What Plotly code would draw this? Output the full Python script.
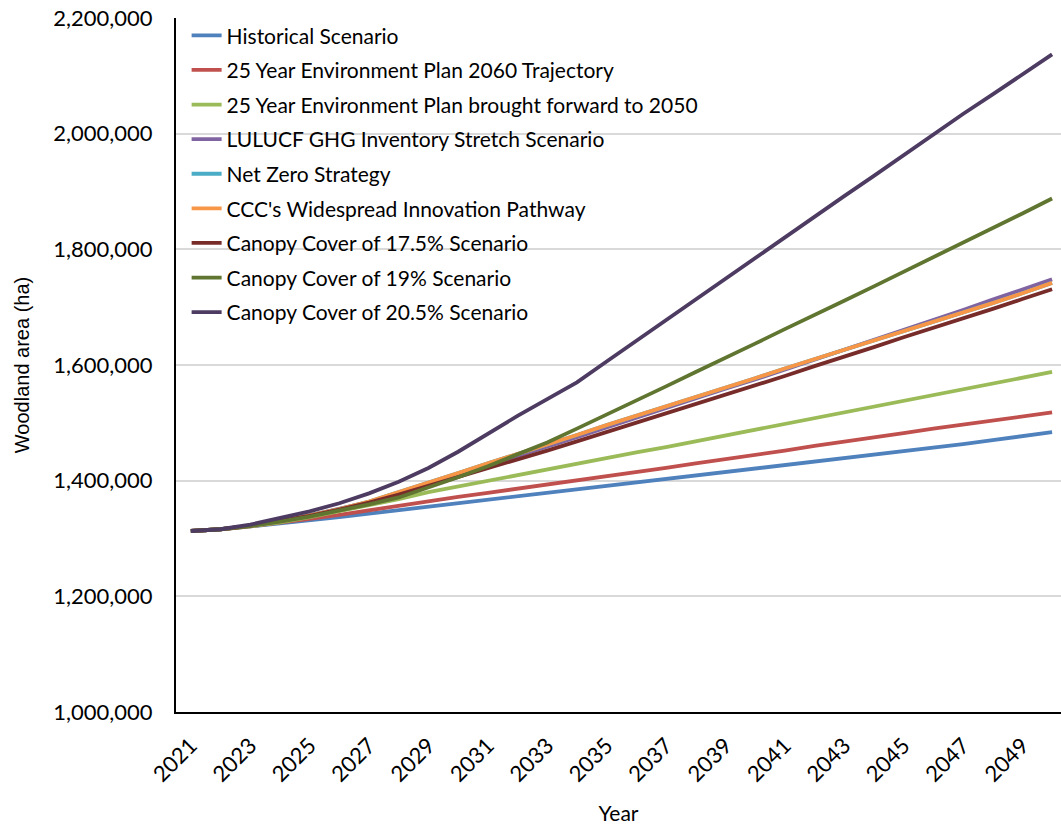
import plotly.graph_objects as go

years = list(range(2021, 2051))

historical = [1313000, 1316000, 1321000, 1326000, 1332000, 1337000, 1343000, 1349000, 1355000, 1361000,
              1367000, 1373000, 1379000, 1385000, 1391000, 1397000, 1403000, 1409000, 1415000, 1421000,
              1427000, 1433000, 1438000, 1444000, 1450000, 1456000, 1463000, 1470000, 1477000, 1484000]
yep_2060 = [1313000, 1316000, 1321000, 1327000, 1334000, 1341000, 1349000, 1357000, 1365000, 1372000,
            1379000, 1386000, 1393000, 1400000, 1408000, 1415000, 1422000, 1430000, 1437000, 1445000,
            1452000, 1460000, 1467000, 1475000, 1482000, 1490000, 1497000, 1504000, 1511000, 1518000]
yep_2050 = [1313000, 1316000, 1321000, 1328000, 1337000, 1347000, 1357000, 1368000, 1380000, 1390000,
            1400000, 1410000, 1420000, 1430000, 1439000, 1449000, 1458000, 1468000, 1478000, 1489000,
            1499000, 1509000, 1519000, 1529000, 1539000, 1549000, 1559000, 1569000, 1578000, 1588000]
lulucf = [1313000, 1316000, 1322000, 1330000, 1340000, 1351000, 1363000, 1378000, 1394000, 1410000,
          1426000, 1442000, 1459000, 1475000, 1492000, 1509000, 1525000, 1542000, 1559000, 1575000,
          1592000, 1609000, 1626000, 1643000, 1661000, 1678000, 1695000, 1713000, 1730000, 1748000]
ccc = [1313000, 1316000, 1322000, 1330000, 1340000, 1351000, 1364000, 1380000, 1397000, 1413000,
       1430000, 1446000, 1463000, 1479000, 1496000, 1512000, 1529000, 1545000, 1561000, 1577000,
       1594000, 1610000, 1626000, 1643000, 1659000, 1675000, 1691000, 1707000, 1724000, 1742000]
net_zero = list(ccc)
canopy_175 = [1313000, 1316000, 1322000, 1330000, 1339000, 1350000, 1362000, 1376000, 1391000, 1406000,
              1421000, 1437000, 1452000, 1468000, 1484000, 1500000, 1516000, 1532000, 1548000, 1565000,
              1581000, 1598000, 1614000, 1631000, 1648000, 1664000, 1681000, 1697000, 1714000, 1731000]
canopy_19 = [1313000, 1316000, 1322000, 1329000, 1338000, 1348000, 1359000, 1371000, 1388000, 1406000,
             1425000, 1445000, 1466000, 1490000, 1514000, 1539000, 1563000, 1588000, 1612000, 1637000,
             1662000, 1686000, 1711000, 1736000, 1761000, 1786000, 1812000, 1837000, 1862000, 1888000]
canopy_205 = [1313000, 1316000, 1324000, 1335000, 1347000, 1361000, 1378000, 1398000, 1422000, 1450000,
              1481000, 1512000, 1541000, 1570000, 1606000, 1642000, 1677000, 1713000, 1748000, 1784000,
              1820000, 1856000, 1892000, 1927000, 1963000, 2000000, 2034000, 2068000, 2103000, 2137000]

series_names = ["Historical Scenario", "25 Year Environment Plan 2060 Trajectory",
                "25 Year Environment Plan brought forward to 2050", "LULUCF GHG Inventory Stretch Scenario",
                "Net Zero Strategy", "CCC's Widespread Innovation Pathway",
                "Canopy Cover of 17.5% Scenario", "Canopy Cover of 19% Scenario",
                "Canopy Cover of 20.5% Scenario"]
series_values = [historical, yep_2060, yep_2050, lulucf, net_zero, ccc, canopy_175, canopy_19, canopy_205]
colors = ["#4F81BD", "#C0504D", "#9BBB59", "#8064A2", "#4BACC6", "#F79646", "#772C2A", "#5F7530", "#4D3B62"]

tick_years = list(range(2021, 2051, 2))
y_ticks = list(range(1000000, 2200001, 200000))

FONT = "Lato, 'Open Sans', sans-serif"

fig = go.Figure()
for i, (name, vals, col) in enumerate(zip(series_names, series_values, colors)):
    fig.add_trace(go.Scatter(x=years, y=vals, name=name, mode="lines",
                             line=dict(color=col, width=3.8), legendgroup=f"g{i}"))

fig.update_layout(
    width=1061, height=826,
    margin=dict(l=176, r=0, t=18, b=114),
    paper_bgcolor="white", plot_bgcolor="white",
    font=dict(family=FONT, size=21, color="#000000"),
    showlegend=True,
    legend=dict(x=0.012, y=1.004, xanchor="left", yanchor="top",
                bgcolor="rgba(255,255,255,0)", font=dict(size=21, color="#000000"),
                tracegroupgap=4.3, itemwidth=30),
    xaxis=dict(range=[2020.5, 2050.3], tickmode="array", tickvals=tick_years,
               ticktext=[str(y) for y in tick_years], tickangle=-45,
               showgrid=False, showline=True, linecolor="#000000", linewidth=2,
               ticks="", zeroline=False, tickfont=dict(size=22), ticklabelstandoff=10,
               title=dict(text="Year", font=dict(size=21), standoff=20)),
    yaxis=dict(range=[1000000, 2200000], tickmode="array", tickvals=y_ticks,
               ticktext=[f"{v:,}" for v in y_ticks],
               showgrid=True, gridcolor="#D9D9D9", gridwidth=1.5,
               showline=True, linecolor="#000000", linewidth=2, ticks="",
               zeroline=False, tickfont=dict(size=22), ticklabelstandoff=17,
               title=dict(text="Woodland area (ha)",
                          font=dict(size=20, family="'Liberation Sans', Arial, sans-serif"),
                          standoff=18)),
)

fig.write_html("out.html")
